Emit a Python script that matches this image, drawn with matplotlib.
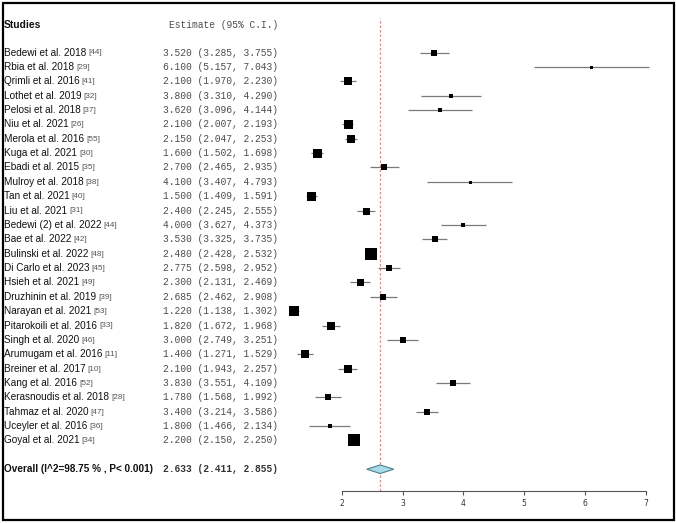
import matplotlib
matplotlib.use("Agg")
import matplotlib.pyplot as plt
from matplotlib.patches import Rectangle

studies = ["Bedewi et al. 2018", "Rbia et al. 2018", "Qrimli et al. 2016", "Lothet et al. 2019",
           "Pelosi et al. 2018", "Niu et al. 2021", "Merola et al. 2016", "Kuga et al. 2021",
           "Ebadi et al. 2015", "Mulroy et al. 2018", "Tan et al. 2021", "Liu et al. 2021",
           "Bedewi (2) et al. 2022", "Bae et al. 2022", "Bulinski et al. 2022", "Di Carlo et al. 2023",
           "Hsieh et al. 2021", "Druzhinin et al. 2019", "Narayan et al. 2021", "Pitarokoili et al. 2016",
           "Singh et al. 2020", "Arumugam et al. 2016", "Breiner et al. 2017", "Kang et al. 2016",
           "Kerasnoudis et al. 2018", "Tahmaz et al. 2020", "Uceyler et al. 2016", "Goyal et al. 2021"]
refs = ["[44]", "[29]", "[41]", "[32]", "[37]", "[26]", "[55]", "[30]", "[35]", "[38]", "[40]", "[31]",
        "[44]", "[42]", "[48]", "[45]", "[49]", "[39]", "[53]", "[33]", "[46]", "[11]", "[10]", "[52]",
        "[28]", "[47]", "[36]", "[34]"]
estimates = [3.520, 6.100, 2.100, 3.800, 3.620, 2.100, 2.150, 1.600, 2.700, 4.100, 1.500, 2.400,
             4.000, 3.530, 2.480, 2.775, 2.300, 2.685, 1.220, 1.820, 3.000, 1.400, 2.100, 3.830,
             1.780, 3.400, 1.800, 2.200]
lower = [3.285, 5.157, 1.970, 3.310, 3.096, 2.007, 2.047, 1.502, 2.465, 3.407, 1.409, 2.245,
         3.627, 3.325, 2.428, 2.598, 2.131, 2.462, 1.138, 1.672, 2.749, 1.271, 1.943, 3.551,
         1.568, 3.214, 1.466, 2.150]
upper = [3.755, 7.043, 2.230, 4.290, 4.144, 2.193, 2.253, 1.698, 2.935, 4.793, 1.591, 2.555,
         4.373, 3.735, 2.532, 2.952, 2.469, 2.908, 1.302, 1.968, 3.251, 1.529, 2.257, 4.109,
         1.992, 3.586, 2.134, 2.250]
# relative study weights (box side, px)
weights = [5.5, 3, 7.5, 4, 4, 9, 8.5, 9, 5.5, 3, 9, 7, 4.5, 6, 12, 6.5, 7, 5.5, 10, 7.5,
           5.5, 8, 7.5, 5.5, 6.5, 6.5, 4.5, 12]
overall_label = "Overall (I^2=98.75 % , P< 0.001)"
overall = (2.633, 2.411, 2.855)
xticks = [2, 3, 4, 5, 6, 7]

W, H = 676, 523
fig = plt.figure(figsize=(W / 100, H / 100), dpi=100)

y0, dy = 52.5, 14.37  # px of first row, px per row
def row_of_px(p):
    return 1 + (p - y0) / dy

rows = list(range(1, len(studies) + 1))
overall_row = len(studies) + 2
header_row = -0.9

# text axes over whole figure (x in px, y in rows)
ax = fig.add_axes([0, 0, 1, 1])
ax.set_xlim(0, W)
ax.set_ylim(row_of_px(H), row_of_px(0))
ax.axis("off")

sans = "Liberation Sans"
mono = "Liberation Mono"
name_x = 4
est_right = 278

ax.text(name_x, header_row, "Studies", fontfamily=sans, fontweight="bold", fontsize=7.4,
        va="center", ha="left", color="#111111")
ax.text(est_right, header_row, "Estimate (95% C.I.)", fontfamily=mono, fontsize=6.9,
        va="center", ha="right", color="#4d4d4d")

for r, s, rf, e, lo, hi in zip(rows, studies, refs, estimates, lower, upper):
    t = ax.text(name_x, r, s, fontfamily=sans, fontsize=7.2, va="center", ha="left", color="#111111")
    ax.annotate(rf, xy=(1, 0.5), xycoords=t, xytext=(1.5, -0.3), textcoords="offset points",
                fontfamily=sans, fontsize=5.9, va="center", ha="left", color="#555555")
    ax.text(est_right, r, f"{e:.3f} ({lo:.3f}, {hi:.3f})", fontfamily=mono, fontsize=6.9,
            va="center", ha="right", color="#4d4d4d")

ax.text(name_x, overall_row, overall_label, fontfamily=sans, fontweight="bold", fontsize=7.2,
        va="center", ha="left", color="#111111")
ax.text(est_right, overall_row, f"{overall[0]:.3f} ({overall[1]:.3f}, {overall[2]:.3f})",
        fontfamily=mono, fontweight="bold", fontsize=6.9, va="center", ha="right", color="#333333")

# forest axes
px_left, px_right, px_top, px_axis = 341.7, 646.0, 18.0, 490.7
ax2 = fig.add_axes([px_left / W, (H - px_axis) / H, (px_right - px_left) / W, (px_axis - px_top) / H])
ax2.set_xlim(xticks[0], xticks[-1])
ax2.set_ylim(row_of_px(px_axis), row_of_px(px_top))
ax2.patch.set_alpha(0)
for sp in ["top", "left", "right"]:
    ax2.spines[sp].set_visible(False)
ax2.spines["bottom"].set_color("#555555")
ax2.spines["bottom"].set_linewidth(0.8)
ax2.set_yticks([])
ax2.set_xticks(xticks)
ax2.set_xticklabels([str(v) for v in xticks])
ax2.tick_params(axis="x", direction="out", length=3, width=0.8, color="#555555",
                labelsize=5.5, labelcolor="#333333", pad=3)

ax2.axvline(overall[0], color="#d88c8c", lw=0.9, ls=(0, (2, 1.6)), zorder=1)

ax2.hlines(rows, lower, upper, color="#7a7a7a", lw=0.9, zorder=2, clip_on=False)
for r, e, w in zip(rows, estimates, weights):
    ax2.plot([e], [r], marker="s", ms=w * 0.72, color="black", mec="black", mew=0, ls="none",
             zorder=3, clip_on=False)

dh = 0.3
ax2.fill([overall[1], overall[0], overall[2], overall[0]],
         [overall_row, overall_row - dh, overall_row, overall_row + dh],
         facecolor="#a8dbea", edgecolor="#4f7f8c", lw=0.8, zorder=3)

# outer frame
fig.add_artist(Rectangle((3 / W, 3 / H), 671 / W, 517 / H, transform=fig.transFigure,
                         fill=False, lw=1.6, ec="black"))

fig.savefig("out.png", dpi=100)
